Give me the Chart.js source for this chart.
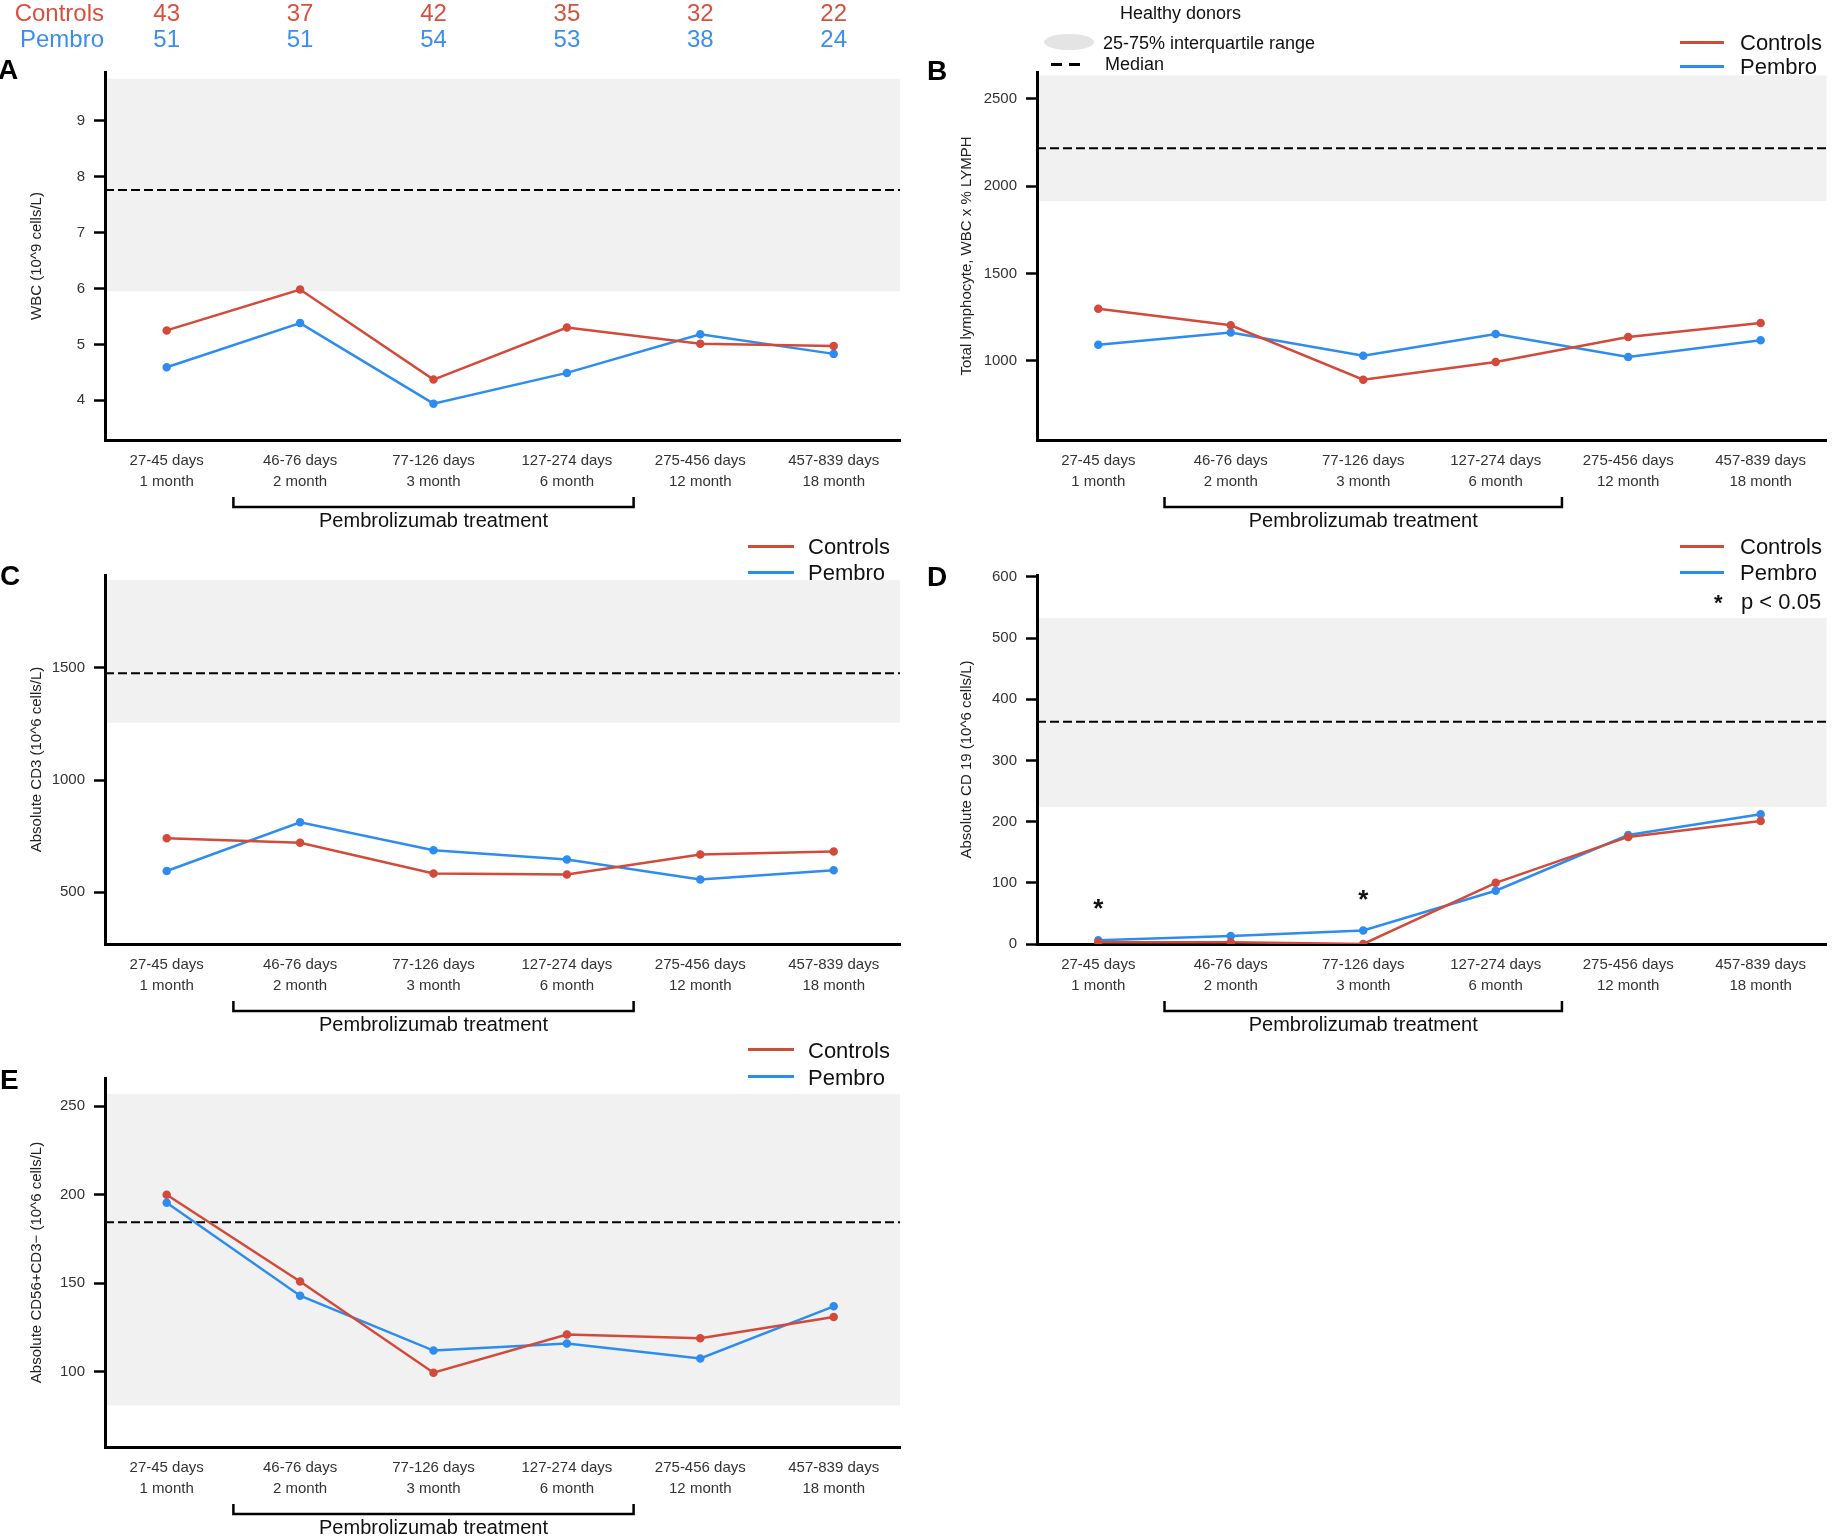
<!DOCTYPE html>
<html>
<head>
<meta charset="utf-8">
<script src="https://cdn.jsdelivr.net/npm/chart.js@4.4.1/dist/chart.umd.min.js"></script>
<style>
body{margin:0;background:#fff;width:1832px;height:1539px;position:relative;overflow:hidden;font-family:"Liberation Sans",Arial,sans-serif;color:#111}
canvas{position:absolute}
.t{position:absolute;white-space:nowrap;line-height:1}
.L{font-weight:bold;font-size:28px;color:#000}
.lg{font-size:22px}
.sm{font-size:18px}
.ln{position:absolute;height:3px}
</style>
</head>
<body>
<canvas id="pA" width="920" height="540" style="left:0;top:0"></canvas>
<canvas id="pB" width="912" height="540" style="left:920px;top:0"></canvas>
<canvas id="pC" width="920" height="500" style="left:0;top:540px"></canvas>
<canvas id="pD" width="912" height="500" style="left:920px;top:540px"></canvas>
<canvas id="pE" width="920" height="499" style="left:0;top:1040px"></canvas>

<div class="t L" style="left:-2px;top:56px">A</div>
<div class="t L" style="left:927px;top:57px">B</div>
<div class="t L" style="left:0;top:562px">C</div>
<div class="t L" style="left:927px;top:563px">D</div>
<div class="t L" style="left:0;top:1066px">E</div>

<div class="t sm" style="left:1120px;top:4px">Healthy donors</div>
<div style="position:absolute;left:1044px;top:34px;width:50px;height:16px;border-radius:50%;background:#e4e4e4"></div>
<div class="t sm" style="left:1103px;top:34px">25-75% interquartile range</div>
<div class="ln" style="left:1051px;top:63px;width:11px;background:#000"></div>
<div class="ln" style="left:1069px;top:63px;width:11px;background:#000"></div>
<div class="t sm" style="left:1105px;top:55px">Median</div>

<div class="ln" style="left:1680px;top:41px;width:44px;background:#d34a3a"></div>
<div class="t lg" style="left:1740px;top:32px">Controls</div>
<div class="ln" style="left:1680px;top:65px;width:44px;background:#2d8cf0"></div>
<div class="t lg" style="left:1740px;top:56px">Pembro</div>

<div class="ln" style="left:748px;top:545px;width:46px;background:#d34a3a"></div>
<div class="t lg" style="left:808px;top:536px">Controls</div>
<div class="ln" style="left:748px;top:571px;width:46px;background:#2d8cf0"></div>
<div class="t lg" style="left:808px;top:562px">Pembro</div>

<div class="ln" style="left:1680px;top:545px;width:44px;background:#d34a3a"></div>
<div class="t lg" style="left:1740px;top:536px">Controls</div>
<div class="ln" style="left:1680px;top:571px;width:44px;background:#2d8cf0"></div>
<div class="t lg" style="left:1740px;top:562px">Pembro</div>
<div class="t lg" style="left:1714px;top:592px;font-weight:bold">*</div>
<div class="t lg" style="left:1741px;top:591px">p &lt; 0.05</div>

<div class="ln" style="left:748px;top:1048px;width:46px;background:#d34a3a"></div>
<div class="t lg" style="left:808px;top:1040px">Controls</div>
<div class="ln" style="left:748px;top:1075px;width:46px;background:#2d8cf0"></div>
<div class="t lg" style="left:808px;top:1067px">Pembro</div>

<script>
// time points and patient numbers
var periodLabels = [
  ['27-45 days', '1 month'],
  ['46-76 days', '2 month'],
  ['77-126 days', '3 month'],
  ['127-274 days', '6 month'],
  ['275-456 days', '12 month'],
  ['457-839 days', '18 month']
];
var controlsN = [43, 37, 42, 35, 32, 22];
var pembroN = [51, 51, 54, 53, 38, 24];
var treatment = [1, 3]; // first and last time point under pembrolizumab

// A - WBC
var wbcControls = [5.25, 5.98, 4.37, 5.30, 5.01, 4.97];
var wbcPembro = [4.59, 5.38, 3.94, 4.49, 5.18, 4.83];
var wbcTicks = [4, 5, 6, 7, 8, 9];
var wbcHealthy = [5.95, 7.76, 9.75]; // q25, median, q75

// B - total lymphocytes
var lymControls = [1297, 1203, 891, 993, 1136, 1216];
var lymPembro = [1092, 1162, 1029, 1153, 1021, 1117];
var lymTicks = [1000, 1500, 2000, 2500];
var lymHealthy = [1915, 2217, 2634];

// C - CD3
var cd3Controls = [741, 721, 584, 579, 668, 682];
var cd3Pembro = [595, 812, 687, 646, 557, 598];
var cd3Ticks = [500, 1000, 1500];
var cd3Healthy = [1255, 1475, 1890];

// D - CD19
var cd19Controls = [3, 3, 0, 100, 175, 201];
var cd19Pembro = [6, 13, 22, 87, 178, 212];
var cd19Ticks = [0, 100, 200, 300, 400, 500, 600];
var cd19Healthy = [224, 363, 533];
var cd19Signif = [0, 2];

// E - NK (CD56+CD3-)
var nkControls = [200, 151, 99.5, 121, 119, 131];
var nkPembro = [195.5, 143, 112, 116, 107.5, 137];
var nkTicks = [100, 150, 200, 250];
var nkHealthy = [81, 184.5, 257];

var RED = '#d34a3a';
var BLUE = '#2d8cf0';

var healthyPlugin = {
  id: 'healthy',
  beforeDraw: function(chart, args, o) {
    var ctx = chart.ctx, a = chart.chartArea, y = chart.scales.y;
    var lo = y.getPixelForValue(o.band[0]);
    var med = y.getPixelForValue(o.band[1]);
    var hi = y.getPixelForValue(o.band[2]);
    ctx.save();
    ctx.fillStyle = '#f1f1f1';
    ctx.fillRect(a.left + 2, hi, a.right - a.left - 2, lo - hi);
    ctx.strokeStyle = '#000';
    ctx.lineWidth = 2;
    ctx.setLineDash([9, 4]);
    ctx.beginPath();
    ctx.moveTo(a.left, med);
    ctx.lineTo(a.right, med);
    ctx.stroke();
    ctx.restore();
  },
  afterDraw: function(chart, args, o) {
    var ctx = chart.ctx, a = chart.chartArea, x = chart.scales.x, y = chart.scales.y;
    ctx.save();
    // treatment bracket
    var x0 = x.getPixelForValue(treatment[0] - 0.5);
    var x1 = x.getPixelForValue(treatment[1] + 0.5);
    var b = a.bottom;
    ctx.strokeStyle = '#000';
    ctx.lineWidth = 2.5;
    ctx.beginPath();
    ctx.moveTo(x0, b + 57);
    ctx.lineTo(x0, b + 67);
    ctx.lineTo(x1, b + 67);
    ctx.lineTo(x1, b + 57);
    ctx.stroke();
    ctx.fillStyle = '#111';
    ctx.font = '20px "Liberation Sans", Arial, sans-serif';
    ctx.textAlign = 'center';
    ctx.textBaseline = 'alphabetic';
    ctx.fillText('Pembrolizumab treatment', (x0 + x1) / 2, b + 87);

    if (o.header) {
      ctx.font = '24px "Liberation Sans", Arial, sans-serif';
      ctx.fillStyle = '#d94f3d';
      ctx.textAlign = 'right';
      ctx.fillText('Controls', 104, 21);
      ctx.textAlign = 'center';
      controlsN.forEach(function(n, i) { ctx.fillText(n, x.getPixelForValue(i), 21); });
      ctx.fillStyle = '#3a8ef2';
      ctx.textAlign = 'right';
      ctx.fillText('Pembro', 104, 47);
      ctx.textAlign = 'center';
      pembroN.forEach(function(n, i) { ctx.fillText(n, x.getPixelForValue(i), 47); });
    }

    if (o.stars) {
      var ds = chart.data.datasets;
      ctx.fillStyle = '#111';
      ctx.font = 'bold 26px "Liberation Sans", Arial, sans-serif';
      ctx.textAlign = 'center';
      o.stars.forEach(function(i) {
        var top = Math.min(y.getPixelForValue(ds[0].data[i].y), y.getPixelForValue(ds[1].data[i].y));
        ctx.fillText('*', x.getPixelForValue(i), top - 38 + 15);
      });
    }
    ctx.restore();
  }
};

function pts(arr) {
  return arr.map(function(v, i) { return {x: i, y: v}; });
}

function panel(id, o) {
  return new Chart(document.getElementById(id), {
    type: 'line',
    data: {
      datasets: [
        {label: 'Controls', data: pts(o.ctrl), borderColor: RED, backgroundColor: RED,
         borderWidth: 2.5, pointRadius: 3, pointHoverRadius: 3, tension: 0},
        {label: 'Pembro', data: pts(o.pem), borderColor: BLUE, backgroundColor: BLUE,
         borderWidth: 2.5, pointRadius: 3, pointHoverRadius: 3, tension: 0}
      ]
    },
    options: {
      responsive: false,
      animation: false,
      layout: {padding: {top: o.top, right: o.right, left: 0, bottom: 0}},
      plugins: {
        legend: {display: false},
        tooltip: {enabled: false},
        healthy: {band: o.healthy, header: o.header, stars: o.stars}
      },
      scales: {
        x: {
          type: 'linear', min: -0.4625, max: 5.497,
          afterBuildTicks: function(s) { s.ticks = periodLabels.map(function(_, i) { return {value: i}; }); },
          afterFit: function(s) { s.height = o.xh; },
          grid: {drawOnChartArea: false, drawTicks: false},
          border: {display: true, color: '#000', width: 3},
          ticks: {
            callback: function(v) { return periodLabels[v]; },
            font: {family: '"Liberation Sans", Arial, sans-serif', size: 15, lineHeight: 1.4},
            color: '#333', padding: 10, maxRotation: 0, autoSkip: false
          }
        },
        y: {
          min: o.min, max: o.max,
          afterBuildTicks: function(s) { s.ticks = o.ticks.map(function(v) { return {value: v}; }); },
          afterFit: function(s) { s.width = o.yw; },
          grid: {drawOnChartArea: false, drawTicks: true, tickLength: 11, color: '#000', tickWidth: 2.5},
          border: {display: true, color: '#000', width: 3},
          ticks: {
            callback: function(v) { return String(v); },
            font: {family: '"Liberation Sans", Arial, sans-serif', size: 15},
            color: '#333', padding: 9
          },
          title: {
            display: true, text: o.title, color: '#222',
            font: {family: '"Liberation Sans", Arial, sans-serif', size: 15},
            padding: {top: o.tp, bottom: 0}
          }
        }
      }
    },
    plugins: [healthyPlugin]
  });
}

panel('pA', {ctrl: wbcControls, pem: wbcPembro, ticks: wbcTicks, healthy: wbcHealthy,
  min: 3.29, max: 9.87, top: 72, right: 20, yw: 105, xh: 100, tp: 28,
  title: 'WBC (10^9 cells/L)', header: true});
panel('pB', {ctrl: lymControls, pem: lymPembro, ticks: lymTicks, healthy: lymHealthy,
  min: 546, max: 2653, top: 72, right: 0, yw: 117, xh: 100, tp: 38,
  title: 'Total lymphocyte, WBC x % LYMPH'});
panel('pC', {ctrl: cd3Controls, pem: cd3Pembro, ticks: cd3Ticks, healthy: cd3Healthy,
  min: 270, max: 1913, top: 35, right: 20, yw: 105, xh: 96, tp: 28,
  title: 'Absolute CD3 (10^6 cells/L)'});
panel('pD', {ctrl: cd19Controls, pem: cd19Pembro, ticks: cd19Ticks, healthy: cd19Healthy,
  min: 0, max: 603, top: 35, right: 0, yw: 117, xh: 96, tp: 38,
  title: 'Absolute CD 19 (10^6 cells/L)', stars: cd19Signif});
panel('pE', {ctrl: nkControls, pem: nkPembro, ticks: nkTicks, healthy: nkHealthy,
  min: 57.5, max: 266, top: 38, right: 20, yw: 105, xh: 92, tp: 28,
  title: 'Absolute CD56+CD3\u2212 (10^6 cells/L)'});
</script>
</body>
</html>
